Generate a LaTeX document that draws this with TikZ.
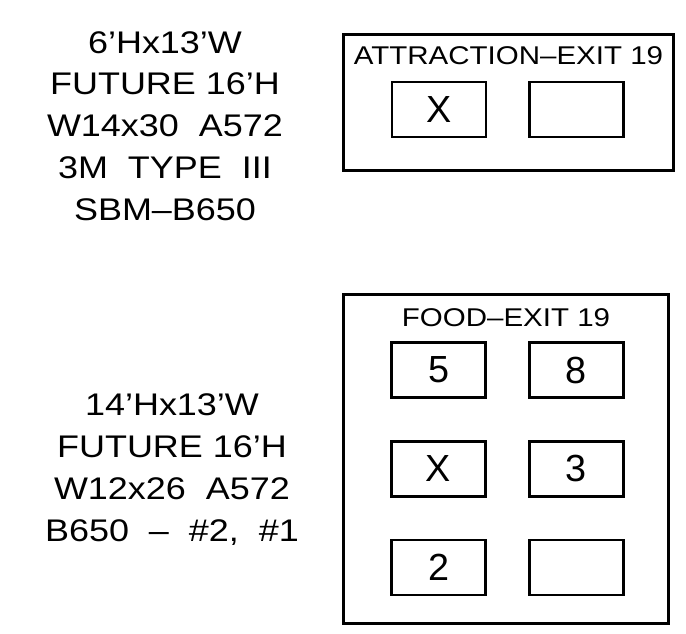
\documentclass[tikz,border=0pt]{standalone}
\usepackage{fontspec}
\setmainfont[FakeStretch=1.15]{Liberation Sans}
\newfontfamily\plainfont{Liberation Sans}
\usetikzlibrary{positioning}

\tikzset{
  signframe/.style={draw, line width=1.6pt, inner sep=0pt},
  signbox/.style={draw, line width=1.6pt, minimum width=1.88cm, minimum height=1.1cm,
    inner sep=0pt, font=\plainfont\fontsize{21.5}{21.5}\selectfont},
  signtitle/.style={inner sep=0pt, font=\fontsize{14.6}{14.6}\selectfont},
  legend/.style={align=center, inner sep=0pt, font=\fontsize{17.8}{23.8}\selectfont}
}

\begin{document}
\begin{tikzpicture}[x=0.02cm, y=-0.02cm, node distance=0.82cm]
      \useasboundingbox (0,0) rectangle (686,634);

      % attraction sign
      \node(attraction) [signframe, minimum width=6.6cm, minimum height=2.72cm] at (508.5,102.5) {};
      \node(atitle) [signtitle, below=0.27cm of attraction.north] {ATTRACTION--EXIT 19};
      \node(ax) [signbox] at (439,109.5) {X};
      \node(ablank) [signbox, right=of ax] {};
      \node(atext) [legend] at (165,126) {6'Hx13'W\\FUTURE 16'H\\W14x30\ \ A572\\3M\ \ TYPE\ \ III\\SBM--B650};

      % food sign
      \node(food) [signframe, minimum width=6.5cm, minimum height=6.58cm] at (506,459) {};
      \node(ftitle) [signtitle, below=0.31cm of food.north] {FOOD--EXIT 19};
      \node(f5) [signbox] at (438.5,370) {5};
      \node(f8) [signbox, right=of f5] {8};
      \node(fx) [signbox, below=of f5] {X};
      \node(f3) [signbox, right=of fx] {3};
      \node(f2) [signbox, below=of fx] {2};
      \node(fblank) [signbox, right=of f2] {};
      \node(ftext) [legend] at (172,469.5) {14'Hx13'W\\FUTURE 16'H\\W12x26\ \ A572\\B650\ \ --\ \ \#2,\ \ \#1};
    \end{tikzpicture}
\end{document}
